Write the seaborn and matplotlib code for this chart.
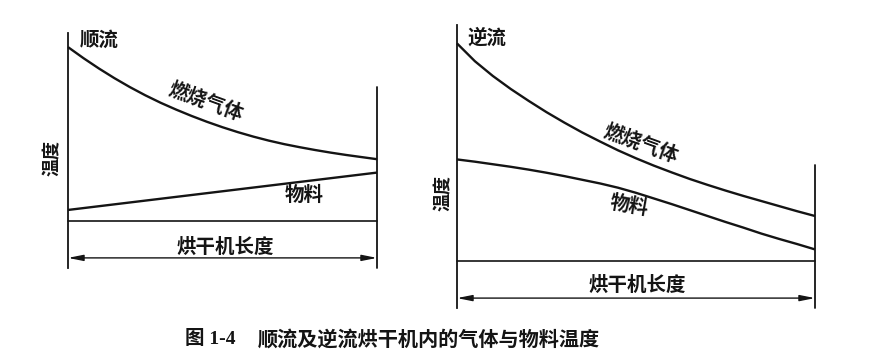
import matplotlib
matplotlib.use('Agg')
import matplotlib.pyplot as plt
import pandas as pd
import seaborn as sns

sns.set_style('white')
plt.rcParams['font.family'] = ['Noto Sans CJK SC', 'DejaVu Sans']

# Relative position along the dryer (0 = inlet, 1 = outlet)
length = [0.00, 0.05, 0.10, 0.15, 0.20, 0.25, 0.30, 0.35, 0.40, 0.45, 0.50,
          0.55, 0.60, 0.65, 0.70, 0.75, 0.80, 0.85, 0.90, 0.95, 1.00]
# Co-current (顺流) temperatures, arbitrary units
co_gas = [94.0, 89.3, 84.9, 80.8, 77.0, 73.5, 70.3, 67.4, 64.7, 62.2, 59.9,
          57.8, 55.9, 54.2, 52.7, 51.4, 50.2, 49.1, 48.1, 47.2, 46.3]
co_material_length = [0.0, 1.0]
co_material = [24.7, 40.6]
# Counter-current (逆流) temperatures, arbitrary units
counter_gas = [93.5, 87.2, 82.0, 77.4, 73.2, 69.2, 65.5, 62.0, 58.8, 55.7, 52.9,
               50.3, 47.9, 45.6, 43.5, 41.5, 39.6, 37.8, 36.0, 34.2, 32.5]
counter_material = [52.5, 51.7, 50.8, 49.9, 48.9, 47.8, 46.6, 45.3, 44.0, 42.5, 40.7,
                    38.7, 36.7, 34.6, 32.5, 30.4, 28.4, 26.3, 24.4, 22.6, 20.7]

panel_titles = ['顺流', '逆流']
gas_label = '燃烧气体'
material_label = '物料'
y_label = '温度'
x_label = '烘干机长度'
caption_num = '图 1-4'
caption_text = '顺流及逆流烘干机内的气体与物料温度'

INK = '#141414'
FS = 14

fig = plt.figure(figsize=(8.7, 3.61), dpi=100)
W, H = 870, 361
ax1 = fig.add_axes([68 / W, (H - 268) / H, 309 / W, 235 / H])
ax2 = fig.add_axes([457 / W, (H - 308) / H, 358 / W, 283 / H])

panels = [
    dict(ax=ax1, gas=co_gas, mat_x=co_material_length, mat=co_material,
         title=panel_titles[0],
         right_top=0.770, base=20.0, arrow=4.3,
         title_xy=(0.039, 0.970), gas_xy=(0.445, 0.708), gas_rot=-20,
         mat_xy=(0.764, 0.311), mat_rot=0,
         xl_xy=(0.508, 0.089), yl_xy=(-0.050, 0.470)),
    dict(ax=ax2, gas=counter_gas, mat_x=length, mat=counter_material,
         title=panel_titles[1],
         right_top=0.505, base=16.6, arrow=3.5,
         title_xy=(0.028, 0.954), gas_xy=(0.513, 0.581), gas_rot=-20,
         mat_xy=(0.480, 0.360), mat_rot=-10,
         xl_xy=(0.503, 0.081), yl_xy=(-0.039, 0.406)),
]

for p in panels:
    ax = p['ax']
    df = pd.DataFrame({'length': list(length) + list(p['mat_x']),
                       'temp': p['gas'] + p['mat'],
                       'kind': [gas_label] * len(length) + [material_label] * len(p['mat_x'])})
    sns.lineplot(data=df, x='length', y='temp', units='kind', estimator=None,
                 color=INK, linewidth=1.7, ax=ax, legend=False)
    for ln in ax.lines:
        ln.set_clip_on(False)
        ln.set_solid_capstyle('butt')
        ln.set_solid_joinstyle('round')
    ax.set_xlim(0, 1)
    ax.set_ylim(0, 100)
    ax.set_xticks([])
    ax.set_yticks([])
    ax.set_xlabel('')
    ax.set_ylabel('')
    for s in ['top', 'right', 'bottom']:
        ax.spines[s].set_visible(False)
    ax.spines['left'].set_color(INK)
    ax.spines['left'].set_linewidth(1.3)
    ax.patch.set_alpha(0)
    # right wall of the dryer
    ax.axvline(1.0, ymin=0, ymax=p['right_top'], color=INK, lw=1.3, clip_on=False)
    # base line
    ax.axhline(p['base'], xmin=0, xmax=1, color=INK, lw=1.2, clip_on=False)
    # length dimension arrow
    ax.annotate('', xy=(1.0, p['arrow']), xytext=(0.0, p['arrow']),
                arrowprops=dict(arrowstyle='<|-|>,head_length=0.9,head_width=0.18',
                                color=INK, lw=1.0, shrinkA=0, shrinkB=0),
                annotation_clip=False)
    ax.text(*p['title_xy'], p['title'], transform=ax.transAxes, ha='left', va='center',
            fontsize=FS, fontweight='heavy', color=INK)
    ax.text(*p['gas_xy'], gas_label, transform=ax.transAxes, ha='center', va='center',
            rotation=p['gas_rot'], rotation_mode='anchor', fontsize=FS,
            fontweight='heavy', color=INK)
    ax.text(*p['mat_xy'], material_label, transform=ax.transAxes, ha='center', va='center',
            rotation=p['mat_rot'], rotation_mode='anchor', fontsize=FS,
            fontweight='heavy', color=INK)
    ax.text(*p['xl_xy'], x_label, transform=ax.transAxes, ha='center', va='center',
            fontsize=FS, fontweight='heavy', color=INK)
    ax.text(*p['yl_xy'], y_label, transform=ax.transAxes, ha='center', va='center',
            rotation=90, fontsize=13, fontweight='heavy', color=INK)

fig.text(185 / W, 1 - 339 / H, caption_num, ha='left', va='center',
         fontsize=14, fontweight='bold', color=INK,
         family=['Liberation Serif', 'Noto Sans CJK SC'])
fig.text(258 / W, 1 - 339 / H, caption_text, ha='left', va='center',
         fontsize=14.5, fontweight='heavy', color=INK)

fig.savefig('out.png', dpi=100, facecolor='white')
